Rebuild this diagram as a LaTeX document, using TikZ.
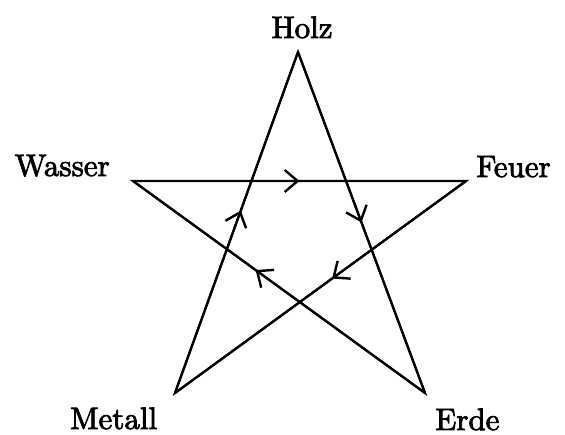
\documentclass[tikz,border=0pt]{standalone}
\usepackage{fontspec}
\setmainfont{lmroman10-regular.otf}[FakeBold=2.5]
\usetikzlibrary{arrows.meta,decorations.markings}
\begin{document}
\begin{tikzpicture}[x=1pt,y=-1pt,
  starline/.style={line width=2.2pt,line join=miter,black},
  flow/.style={line width=2.2pt,postaction={decorate},
    decoration={markings,mark=at position #1 with {\arrow{Straight Barb[length=13pt,width=22pt,line width=2.4pt]}}}},
  lab/.style={inner sep=0pt,font=\fontsize{31}{37}\selectfont}]
\useasboundingbox (0,0) rectangle (565,435);
\coordinate (H) at (298,52);
\coordinate (W) at (133,181);
\coordinate (F) at (466,181);
\coordinate (M) at (175,393);
\coordinate (E) at (425,393);
\draw[starline] (W) -- (F) -- (M) -- (H) -- (E) -- cycle;
\draw[flow=0.5] (W) -- (F);
\draw[flow=0.5] (H) -- (E);
\draw[flow=0.46] (F) -- (M);
\draw[flow=0.58] (E) -- (W);
\draw[flow=0.535] (M) -- (H);
\node[lab,anchor=base] (holz) at (302,38) {Holz};
\node[lab,anchor=base east] (wasser) at (110,176) {Wasser};
\node[lab,anchor=base west] (feuer) at (476,177) {Feuer};
\node[lab,anchor=base west] (metall) at (70,429) {Metall};
\node[lab,anchor=base west] (erde) at (435,430) {Erde};
\end{tikzpicture}
\end{document}
